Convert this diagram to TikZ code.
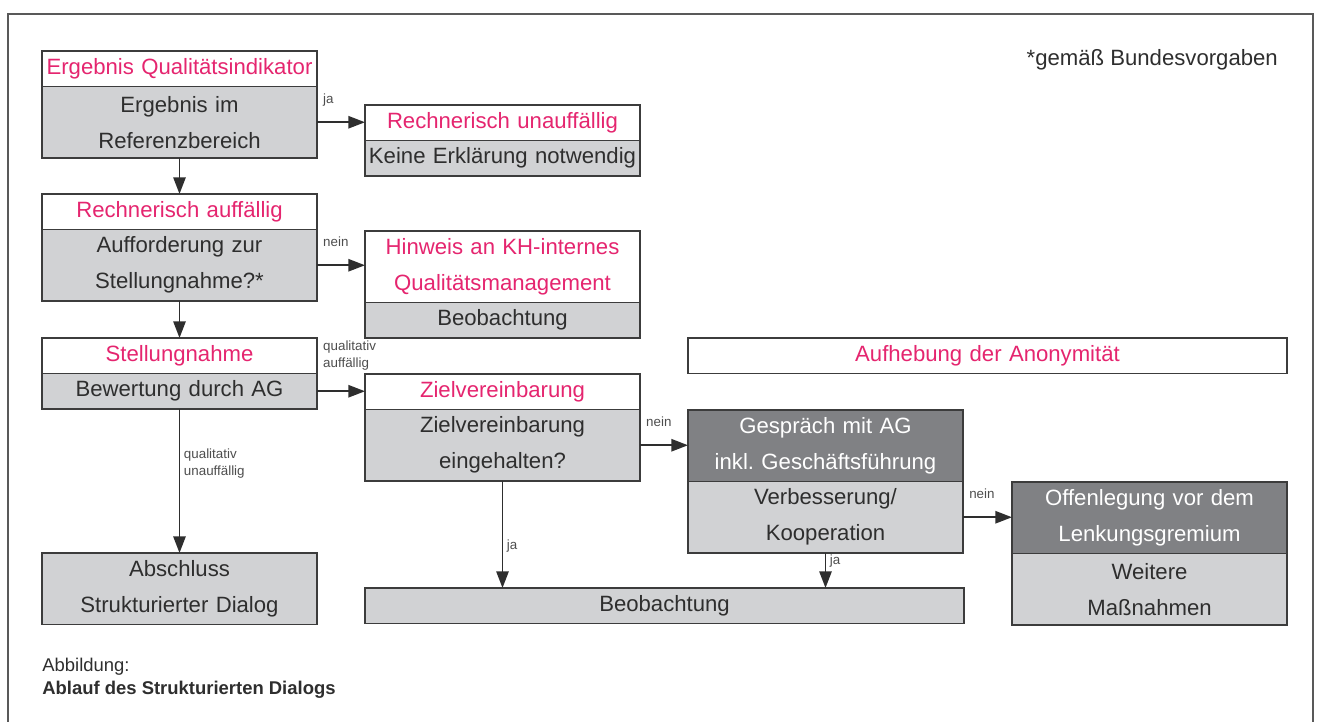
\documentclass[tikz,border=0pt]{standalone}
\usepackage{fontspec}
\setmainfont{Liberation Sans}
\usetikzlibrary{positioning,arrows.meta}
\definecolor{tpink}{HTML}{E5256F}
\definecolor{lgray}{HTML}{D1D2D4}
\definecolor{dgray}{HTML}{808184}
\definecolor{lineg}{HTML}{3C3C3C}
\definecolor{txtg}{HTML}{2E2E2E}
\frenchspacing
\begin{document}
\begin{tikzpicture}[
    box/.style={rectangle, draw=lineg, line width=1.1pt, outer sep=0pt, inner sep=0pt, text width=5.5cm, align=center, minimum height=0.71cm, font=\fontsize{12.6}{20.5}\selectfont},
    headbox/.style={box, fill=white, text=tpink},
    bodybox/.style={box, fill=lgray, text=txtg},
    darkbox/.style={box, fill=dgray, text=white},
    tall/.style={minimum height=1.43cm},
    wide/.style={text width=11.98cm},
    lbl/.style={font=\fontsize{7.6}{9.7}\selectfont, text=txtg!85, inner sep=1pt, align=left},
    arr/.style={-{Triangle[length=9.5pt,width=7pt]}, line width=1.1pt, draw=txtg}
]
\useasboundingbox (0,0) rectangle (26.36,-14.44);

% Rahmen
\draw[draw=lineg!85, line width=1.1pt] (0.16,-14.44) |- (26.26,-0.28) -- (26.26,-14.44);

\node[anchor=east, text=txtg, font=\fontsize{12.6}{15}\selectfont] (fussnote) at (25.68,-1.2) {*gemäß Bundesvorgaben};

% Linke Spalte
\node[headbox, anchor=north] (q_head) at (3.59,-1.02) {Ergebnis Qualitätsindikator};
\node[bodybox, tall, below=0pt of q_head] (q_body) {Ergebnis im\\Referenzbereich};
\node[headbox, anchor=north] (ra_head) at (3.59,-3.88) {Rechnerisch auffällig};
\node[bodybox, tall, below=0pt of ra_head] (ra_body) {Aufforderung zur\\Stellungnahme?*};
\node[headbox, anchor=north] (st_head) at (3.59,-6.76) {Stellungnahme};
\node[bodybox, below=0pt of st_head] (st_body) {Bewertung durch AG};
\node[bodybox, tall, anchor=north] (ab) at (3.59,-11.06) {Abschluss\\Strukturierter Dialog};

% Mittlere Spalte
\node[headbox, anchor=north] (ru_head) at (10.05,-2.10) {Rechnerisch unauffällig};
\node[bodybox, below=0pt of ru_head] (ru_body) {Keine Erklärung notwendig};
\node[headbox, tall, anchor=north] (hw_head) at (10.05,-4.62) {Hinweis an KH-internes\\Qualitätsmanagement};
\node[bodybox, below=0pt of hw_head] (hw_body) {Beobachtung};
\node[headbox, anchor=north] (zv_head) at (10.05,-7.48) {Zielvereinbarung};
\node[bodybox, tall, below=0pt of zv_head] (zv_body) {Zielvereinbarung\\eingehalten?};
\node[bodybox, wide, anchor=north] (beob) at (13.29,-11.76) {Beobachtung};

% Rechte Spalten
\node[headbox, wide, anchor=north] (auf) at (19.75,-6.76) {Aufhebung der Anonymität};
\node[darkbox, tall, anchor=north] (ge_head) at (16.51,-8.20) {Gespräch mit AG\\inkl. Geschäftsführung};
\node[bodybox, tall, below=0pt of ge_head] (ge_body) {Verbesserung/\\Kooperation};
\node[darkbox, tall, anchor=north] (of_head) at (22.99,-9.64) {Offenlegung vor dem\\Lenkungsgremium};
\node[bodybox, tall, below=0pt of of_head] (of_body) {Weitere\\Maßnahmen};

% Pfeile
\draw[arr] (q_body.east) -- (q_body.east -| ru_head.west)
    node[lbl, pos=0, anchor=base west, xshift=2pt, yshift=0.38cm] (l_ja1) {ja};
\draw[arr] (q_body.south) -- (ra_head.north);
\draw[arr] (ra_body.east) -- (ra_body.east -| hw_head.west)
    node[lbl, pos=0, anchor=base west, xshift=2pt, yshift=0.38cm] (l_nein1) {nein};
\draw[arr] (ra_body.south) -- (st_head.north);
\draw[arr] (st_body.east) -- (st_body.east -| zv_head.west)
    node[lbl, pos=0, anchor=south west, xshift=2pt, yshift=0.37cm] (l_qa) {qualitativ\\auffällig};
\draw[arr] (st_body.south) -- (ab.north)
    node[lbl, pos=0.378, anchor=west, xshift=1pt] (l_qu) {qualitativ\\unauffällig};
\draw[arr] (zv_body.east) -- (zv_body.east -| ge_head.west)
    node[lbl, pos=0, anchor=base west, xshift=2pt, yshift=0.38cm] (l_nein2) {nein};
\draw[arr] (zv_body.south) -- (zv_body.south |- beob.north)
    node[lbl, pos=0.607, anchor=west, xshift=1pt] (l_ja2) {ja};
\draw[arr] (ge_body.east) -- (ge_body.east -| of_head.west)
    node[lbl, pos=0, anchor=base west, xshift=2pt, yshift=0.38cm] (l_nein3) {nein};
\draw[arr] (ge_body.south) -- (ge_body.south |- beob.north)
    node[lbl, pos=0.22, anchor=west, xshift=1pt] (l_ja3) {ja};

% Bildunterschrift
\node[anchor=base west, inner sep=0pt, text=txtg, font=\fontsize{10.5}{12}\selectfont] (cap1) at (0.84,-13.42) {Abbildung:};
\node[anchor=base west, inner sep=0pt, text=txtg, font=\fontsize{10.5}{12}\selectfont\bfseries] (cap2) at (0.84,-13.88) {Ablauf des Strukturierten Dialogs};
\end{tikzpicture}
\end{document}
